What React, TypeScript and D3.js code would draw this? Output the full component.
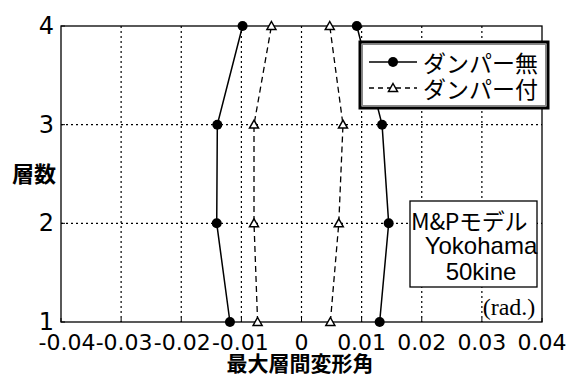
import React from "react";
import * as d3 from "d3";

const floors = [1, 2, 3, 4];
const noDamperNeg = [-0.0119, -0.0141, -0.014, -0.0098];
const noDamperPos = [0.013, 0.0145, 0.0134, 0.0092];
const damperNeg = [-0.0073, -0.0079, -0.0079, -0.005];
const damperPos = [0.0048, 0.0062, 0.0069, 0.0047];
const xTicks = [-0.04, -0.03, -0.02, -0.01, 0, 0.01, 0.02, 0.03, 0.04];
const yTicks = [1, 2, 3, 4];
const legendLabels = ["ダンパー無", "ダンパー付"];
const noteLines = ["M&Pモデル", "Yokohama", "50kine"];

const W = 573, H = 376;
const L = 61, R = 542, T = 26, B = 322;

export default function App() {
  const x = d3.scaleLinear().domain([-0.04, 0.04]).range([L, R]);
  const y = d3.scaleLinear().domain([1, 4]).range([B, T]);
  const line = d3.line<[number, number]>().x(d => x(d[0])).y(d => y(d[1]));
  const pts = (vals: number[]) => vals.map((v, i) => [v, floors[i]] as [number, number]);
  const font = "'Liberation Sans', Arial, sans-serif";
  const dv = "'DejaVu Sans', sans-serif";
  const cjk = "'Noto Sans CJK JP', sans-serif";
  const fmt = (t: number) => (t === 0 ? "0" : d3.format(".2f")(t).replace("\u2212", "-"));
  const labelShift = (t: number) => (t < -0.035 ? 6 : t < -0.025 ? 3 : t < -0.015 ? 1 : t < -0.005 ? -1 : 0);
  const tri = (cx: number, cy: number, s = 4.5) =>
    `M${cx},${cy - s}L${cx + s},${cy + s * 0.75}L${cx - s},${cy + s * 0.75}Z`;

  return (
    <svg width={W} height={H} style={{ position: "absolute", left: 0, top: 0, background: "#fff" }}>
      <rect x={0} y={0} width={W} height={H} fill="#fff" />
      {/* grid */}
      {xTicks.slice(1, -1).map(t => (
        <line key={"gx" + t} x1={x(t)} x2={x(t)} y1={T} y2={B} stroke="#000" strokeWidth={1.2} strokeDasharray="2,3" />
      ))}
      {yTicks.slice(1, -1).map(t => (
        <line key={"gy" + t} x1={L} x2={R} y1={y(t)} y2={y(t)} stroke="#000" strokeWidth={1.2} strokeDasharray="2,3" />
      ))}
      {/* frame */}
      <rect x={L} y={T} width={R - L} height={B - T} fill="none" stroke="#000" strokeWidth={1.3} />
      {/* ticks */}
      {xTicks.map(t => (
        <line key={"tx" + t} x1={x(t)} x2={x(t)} y1={B} y2={B - 4} stroke="#000" />
      ))}
      {yTicks.map(t => (
        <line key={"ty" + t} x1={L} x2={L + 4} y1={y(t)} y2={y(t)} stroke="#000" />
      ))}
      {/* series */}
      {[noDamperNeg, noDamperPos].map((s, i) => (
        <g key={"nd" + i}>
          <path d={line(pts(s)) || ""} fill="none" stroke="#000" strokeWidth={1.5} />
          {pts(s).map((p, j) => (
            <circle key={j} cx={x(p[0])} cy={y(p[1])} r={5} fill="#000" />
          ))}
        </g>
      ))}
      {[damperNeg, damperPos].map((s, i) => (
        <g key={"d" + i}>
          <path d={line(pts(s)) || ""} fill="none" stroke="#000" strokeWidth={1.3} strokeDasharray="6,4" />
          {pts(s).map((p, j) => (
            <path key={j} d={tri(x(p[0]), y(p[1]))} fill="#fff" stroke="#000" strokeWidth={1.5} />
          ))}
        </g>
      ))}
      {/* legend */}
      <rect x={360} y={42} width={188} height={66} fill="#fff" stroke="#000" strokeWidth={3} />
      <rect x={362.5} y={44.5} width={183} height={61} fill="none" stroke="#888" strokeWidth={1} />
      <line x1={369} x2={417} y1={62} y2={62} stroke="#000" strokeWidth={1.5} />
      <circle cx={393} cy={62} r={5} fill="#000" />
      <line x1={369} x2={417} y1={88} y2={88} stroke="#000" strokeWidth={1.3} strokeDasharray="5,4" />
      <path d={tri(393, 88)} fill="#fff" stroke="#000" strokeWidth={1.5} />
      {legendLabels.map((l, i) => (
        <text key={l} x={423} y={62 + i * 26} dominantBaseline="central" fontFamily={cjk} fontSize={23} fill="#000">
          {l}
        </text>
      ))}
      {/* note box */}
      <rect x={410} y={201} width={127} height={86} fill="#fff" stroke="#000" strokeWidth={1.3} />
      {noteLines.map((l, i) => (
        <text key={l} x={i === 0 ? 411 : 481} y={220 + i * 25.5} dominantBaseline="central"
          textAnchor={i === 0 ? "start" : "middle"} fontFamily={i === 0 ? cjk : font} fontSize={i === 0 ? 23 : 24} fill="#000"
          letterSpacing={i === 0 ? -0.3 : 0}>
          {l}
        </text>
      ))}
      <text x={509} y={315} textAnchor="middle" fontFamily="'Liberation Serif', 'DejaVu Serif', serif" fontSize={24} fill="#000">(rad.)</text>
      {/* tick labels */}
      {xTicks.map(t => (
        <text key={"lx" + t} x={x(t) + labelShift(t)} y={342} textAnchor="middle" dominantBaseline="central"
          fontFamily={dv} fontSize={22} fill="#000">
          {fmt(t)}
        </text>
      ))}
      {yTicks.map(t => (
        <text key={"ly" + t} x={54} y={y(t)} textAnchor="end" dominantBaseline="central"
          fontFamily={dv} fontSize={24} fill="#000">
          {t}
        </text>
      ))}
      <text x={34} y={172} textAnchor="middle" dominantBaseline="central" fontFamily={cjk} fontWeight="bold" fontSize={22} fill="#000">層数</text>
      <text x={300} y={362} textAnchor="middle" dominantBaseline="central" fontFamily={cjk} fontWeight="bold" fontSize={21} fill="#000">最大層間変形角</text>
    </svg>
  );
}
